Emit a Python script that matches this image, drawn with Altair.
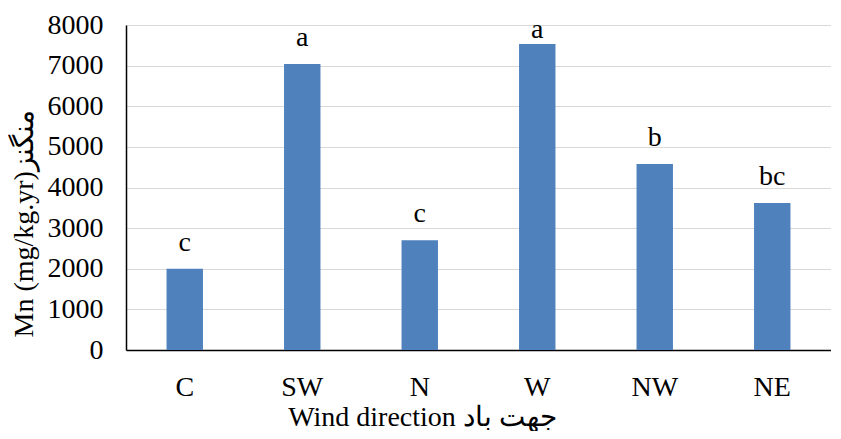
import altair as alt
import pandas as pd

directions = ["C", "SW", "N", "W", "NW", "NE"]
mn_values = [2000, 7040, 2700, 7530, 4580, 3620]
letters = ["c", "a", "c", "a", "b", "bc"]

df = pd.DataFrame({"dir": directions, "mn": mn_values, "letter": letters})

FONT = "'Times New Roman', 'Liberation Serif', 'DejaVu Serif', serif"

x_enc = alt.X(
    "dir:N",
    sort=directions,
    scale=alt.Scale(paddingInner=0.69, paddingOuter=0.345),
    axis=alt.Axis(
        title="Wind direction جهت باد",
        labelAngle=0,
        labelFont=FONT,
        labelFontSize=28,
        labelColor="black",
        labelBaseline="alphabetic",
        labelPadding=45,
        ticks=False,
        domainColor="black",
        domainWidth=1.5,
        titleFont=FONT,
        titleFontSize=28,
        titleFontWeight="normal",
        titleColor="black",
        titleBaseline="alphabetic",
        titleAlign="center",
        titleX=296,
        titleY=75,
    ),
)

y_enc = alt.Y(
    "mn:Q",
    scale=alt.Scale(domain=[0, 8000]),
    axis=alt.Axis(
        title="Mn (mg/kg.yr)منگنز",
        values=[0, 1000, 2000, 3000, 4000, 5000, 6000, 7000, 8000],
        format="d",
        labelFont=FONT,
        labelFontSize=28,
        labelColor="black",
        labelPadding=23,
        ticks=False,
        domainColor="black",
        domainWidth=1.5,
        gridColor="#d9d9d9",
        gridWidth=1.2,
        titleFont=FONT,
        titleFontSize=28,
        titleFontWeight="normal",
        titleColor="black",
        titleAngle=-90,
        titleAlign="left",
        titleBaseline="alphabetic",
        titleX=-94,
        titleY=312,
    ),
)

bars = alt.Chart(df).mark_bar(color="#4f81bd").encode(x=x_enc, y=y_enc)

labels = (
    alt.Chart(df)
    .transform_calculate(ly="min(datum.mn + 443, 7680)")
    .mark_text(font=FONT, fontSize=28, color="black", baseline="alphabetic")
    .encode(x=alt.X("dir:N", sort=directions), y=alt.Y("ly:Q"), text="letter:N")
)

chart = (
    alt.layer(bars, labels)
    .properties(
        width=705,
        height=325,
        autosize=alt.AutoSizeParams(type="none"),
        padding={"left": 118, "top": 17, "right": 0, "bottom": 81},
    )
    .configure_view(stroke=None)
    .configure_axisX(grid=False)
)

chart.save("out.html", embed_options={"renderer": "svg", "actions": False})
